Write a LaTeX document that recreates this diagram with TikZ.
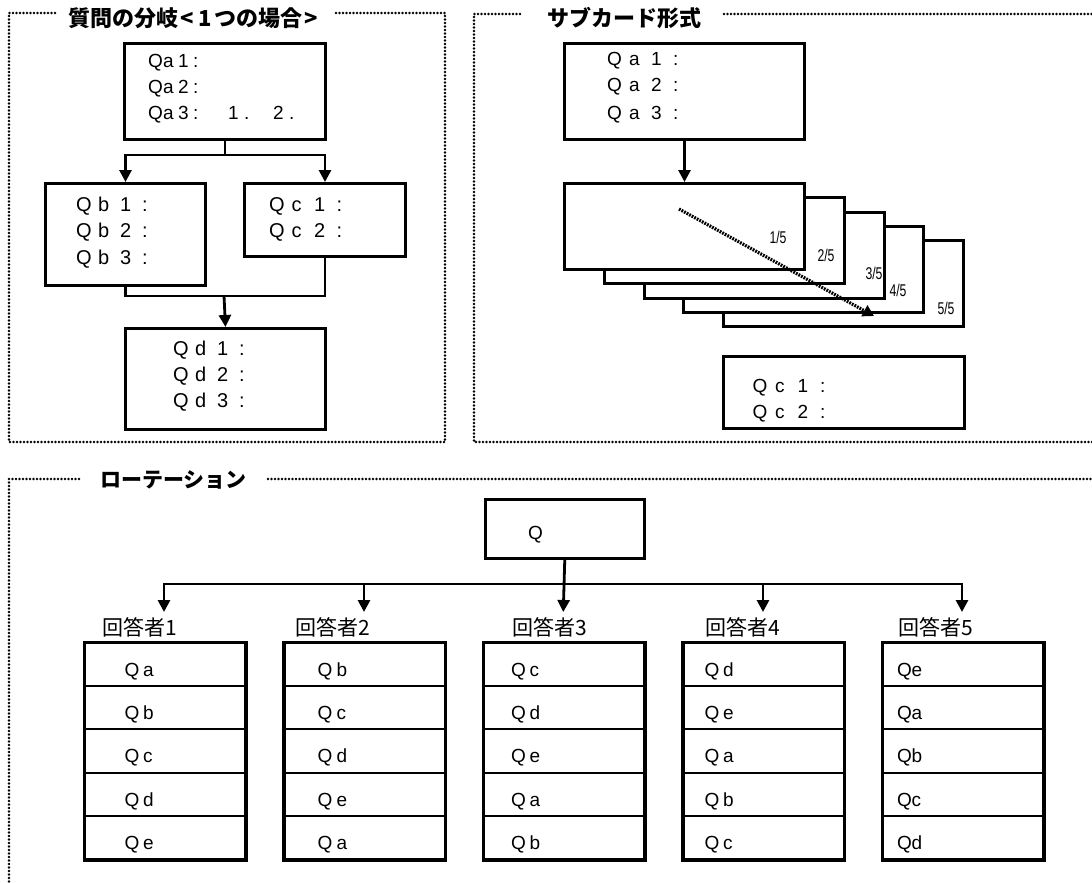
\documentclass[tikz,border=0pt]{standalone}
\usepackage{fontspec}
\usepackage{graphicx}
\setmainfont{Liberation Sans}
\newfontfamily\jp{Noto Sans CJK JP}
\usetikzlibrary{arrows.meta}
\newlength\pitch
\makeatletter
\newcommand\ml[2]{\setlength\pitch{#1}\ml@#2\relax}
\def\ml@#1{\ifx#1\relax\else\makebox[\pitch][l]{#1}\expandafter\ml@\fi}
\makeatother
\begin{document}
\begin{tikzpicture}[x=1pt,y=-1pt,
  frame/.style={line width=2.7pt,line cap=round,dash pattern=on 0pt off 3.5pt},
  box/.style={draw,line width=3pt,fill=white,anchor=north west,inner sep=0pt},
  cell/.style={draw,line width=2pt,anchor=north west,inner sep=0pt,minimum width=160pt,minimum height=43.2pt},
  ln/.style={line width=2.8pt},
  arr/.style={line width=2.8pt,-{Triangle[width=12pt,length=12pt]}},
  dotarr/.style={line width=3.2pt,dash pattern=on 1.8pt off 1.1pt,-{Triangle[width=12pt,length=11pt]}},
  ttl/.style={inner sep=0pt,anchor=west,font=\jp\bfseries\fontsize{22}{22}\selectfont},
  lab/.style={inner sep=0pt,anchor=west,font=\jp\fontsize{21}{21}\selectfont},
  tx/.style={inner sep=0pt,anchor=base west,font=\fontsize{19}{19}\selectfont},
  tb/.style={inner sep=0pt,anchor=base west,font=\fontsize{20}{20}\selectfont},
  frac/.style={inner sep=0pt,font=\fontsize{17}{17}\selectfont}
]
\useasboundingbox (0,0) rectangle (1092,883);
\clip (0,0) rectangle (1092,883);

% ---------- frames and titles ----------
\draw[frame] (55,13) -- (9,13) -- (9,442) -- (445,442) -- (445,13) -- (333,13);
\node[ttl] (t1) at (68,18) {質問の分岐\makebox[19pt]{<}\makebox[17pt]{1}つの場合\makebox[19pt]{>}};
\draw[frame] (520,14) -- (474,14) -- (474,442) -- (1100,442);
\draw[frame] (724,14) -- (1100,14);
\node[ttl] (t2) at (547,18) {サブカード形式};
\draw[frame] (79,479) -- (9,479) -- (9,890);
\draw[frame] (268,479) -- (1100,479);
\node[ttl,font=\jp\bfseries\fontsize{21}{21}\selectfont] (t3) at (100,480) {ローテーション};

% ---------- panel 1 ----------
\node[box,minimum width=201pt,minimum height=96pt] (p1a) at (123,42) {};
\node[tx] (p1a1) at (148,67) {\ml{15pt}{Qa1:}};
\node[tx] (p1a2) at (148,93) {\ml{15pt}{Qa2:}};
\node[tx] (p1a3) at (148,119) {\ml{15pt}{Qa3:}\hspace{20pt}\ml{16pt}{1.}\hspace{13pt}\ml{16pt}{2.}};
\node[box,minimum width=160pt,minimum height=102pt] (p1b) at (44,182) {};
\node[tb] (p1b1) at (76,211) {\ml{22pt}{Qb1:}};
\node[tb] (p1b2) at (76,237) {\ml{22pt}{Qb2:}};
\node[tb] (p1b3) at (76,264) {\ml{22pt}{Qb3:}};
\node[box,minimum width=161pt,minimum height=73pt] (p1c) at (243,182) {};
\node[tb] (p1c1) at (269,211) {\ml{22.5pt}{Qc1:}};
\node[tb] (p1c2) at (269,237) {\ml{22.5pt}{Qc2:}};
\node[box,minimum width=200pt,minimum height=101pt] (p1d) at (124,327) {};
\node[tb] (p1d1) at (173,355) {\ml{22pt}{Qd1:}};
\node[tb] (p1d2) at (173,381) {\ml{22pt}{Qd2:}};
\node[tb] (p1d3) at (173,407) {\ml{22pt}{Qd3:}};
\draw[arr] (p1a.south) -- ++(0,14) -| (p1b.north);
\draw[arr] (p1a.south) -- ++(0,14) -| (p1c.north);
\coordinate (p1m) at (224,296);
\draw[ln] (p1b.south) |- (p1m) -| (p1c.south);
\draw[arr] (p1m) -- (p1d.north);

% ---------- panel 2 ----------
\node[box,minimum width=240pt,minimum height=96pt] (p2a) at (563,42) {};
\node[tx] (p2a1) at (607,66) {\ml{22pt}{Qa1:}};
\node[tx] (p2a2) at (607,92) {\ml{22pt}{Qa2:}};
\node[tx] (p2a3) at (607,119) {\ml{22pt}{Qa3:}};
\foreach \k in {5,4,3,2,1}
  \node[box,minimum width=240pt,minimum height=86pt] (card\k) at ({563+39.8*(\k-1)},{182+14.3*(\k-1)}) {};
\draw[arr] (p2a.south) -- (card1.north);
\foreach \k/\x/\y in {1/778/237,2/826/255,3/874/273,4/898/290,5/946/308}
  \node[frac] (f\k) at (\x,\y) {\scalebox{0.72}[1]{\k/5}};
\coordinate (ds) at (679,209);
\coordinate (de) at (874,316);
\draw[dotarr] (ds) -- (de);
\node[box,minimum width=241pt,minimum height=72pt] (p2c) at (722,355) {};
\node[tx] (p2c1) at (752.5,392) {\ml{22.5pt}{Qc1:}};
\node[tx] (p2c2) at (752.5,418) {\ml{22.5pt}{Qc2:}};

% ---------- panel 3 ----------
\node[box,minimum width=159.5pt,minimum height=59pt] (q) at (483.5,498) {};
\node[tx] (qt) at (528,539) {Q};
\foreach \i/\x in {1/164,2/364,3/563.25,4/763,5/962}
  \coordinate (a\i) at (\x,612);
\coordinate (hub) at (563.25,584);
\draw[arr] (q.south) -- (a3);
\foreach \i in {1,2,4,5}
  \draw[arr] (hub) -| (a\i);
\foreach \i/\lx in {1/102,2/295,3/512,4/705.5,5/898}
  \node[lab] (l\i) at (\lx,627) {回答者\i};
\foreach \i/\x/\tx/\p/\lst in {1/84/124.5/18.5/{a,b,c,d,e},2/283.6/317.5/19/{b,c,d,e,a},3/483.2/511/18.5/{c,d,e,a,b},4/682.8/704.5/18.5/{d,e,a,b,c},5/882.4/897/14.5/{e,a,b,c,d}}{
  \foreach \L [count=\j] in \lst {
    \node[cell] (c\i\j) at (\x,{642+43.2*(\j-1)}) {};
    \node[tx] (c\i\j t) at (\tx,{676.5+43.2*(\j-1)}) {\ml{\p pt}{Q\L}};
  }
  \draw[line width=3pt] (c\i1.north west) rectangle (c\i5.south east);
}
\end{tikzpicture}
\end{document}
